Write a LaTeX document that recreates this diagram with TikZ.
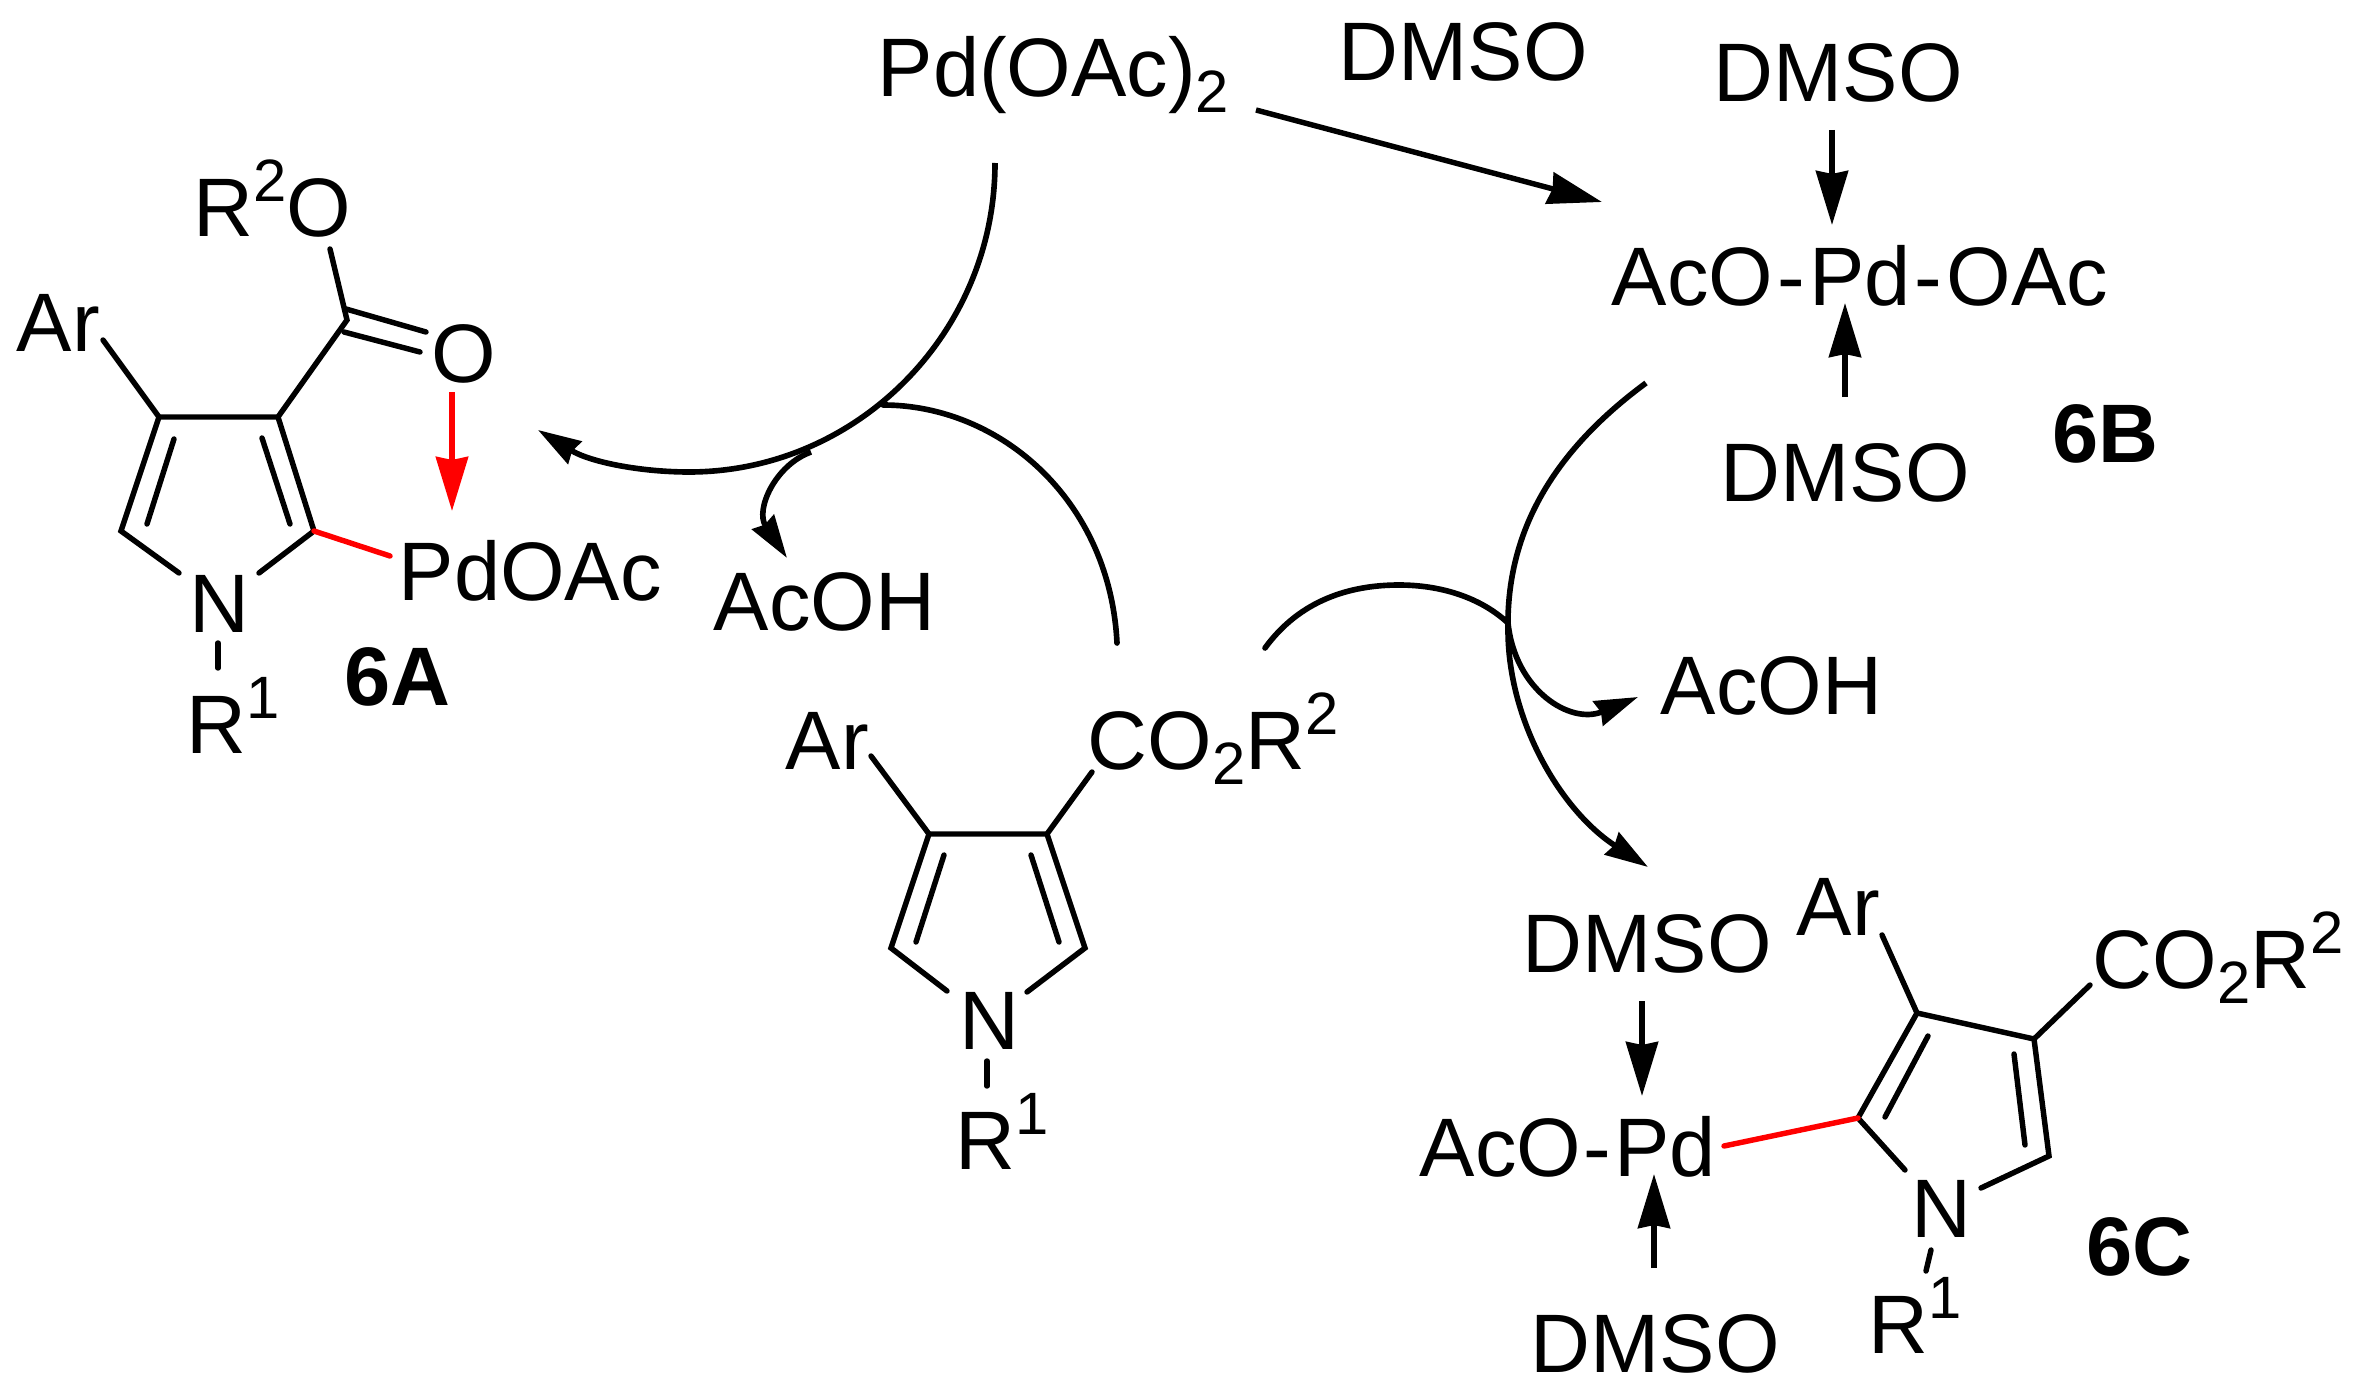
\documentclass[tikz,border=0pt]{standalone}
\usepackage{fontspec}
\setmainfont{Liberation Sans}
\usetikzlibrary{arrows.meta}
\newcommand{\supnum}[1]{\raisebox{.41em}{\fontsize{17}{17}\selectfont #1}}
\newcommand{\subnum}[1]{\raisebox{-.19em}{\fontsize{17}{17}\selectfont #1}}
\newcommand{\wbar}{\kern1.2pt-\kern1.2pt}
\tikzset{
	label/.style={anchor=base west, inner sep=0pt, font=\fontsize{23.6}{28}\selectfont},
	tag/.style={label, font=\fontsize{23.6}{28}\selectfont\bfseries},
	bond/.style={line width=1.55pt, line cap=round},
	redbond/.style={bond, red},
	curve/.style={line width=1.6pt, -{Stealth[length=4.3mm, width=2.6mm, inset=.3mm]}},
	plain/.style={line width=1.6pt, line cap=round},
	straight/.style={line width=1.55pt, -{Stealth[length=5.4mm, width=3.2mm, inset=.3mm]}},
}
\begin{document}
\begin{tikzpicture}[x=0.01cm, y=-0.01cm]
	\useasboundingbox (0,0) rectangle (2357,1397);

	\node[label] (pdoac) at (877,97) {Pd(OAc)\subnum{2}};
	\node[label] (dmsotop) at (1338,81) {DMSO};
	\node[label] (acoha) at (713,630) {AcOH};
	\node[label] (acohb) at (1660,714) {AcOH};

	\node[label] (bdmsoa) at (1713,102) {DMSO};
	\node[label] (bpd) at (1611,305) {AcO\wbar Pd\wbar OAc};
	\node[label] (bdmsob) at (1720,501) {DMSO};
	\node[tag] (btag) at (2052,462) {6B};

	\node[label] (aar) at (16,351) {Ar};
	\node[label] (aor) at (193,236) {R\supnum{2}O};
	\node[label] (ao) at (431,382) {O};
	\node[label] (apd) at (398,600) {PdOAc};
	\node[label] (an) at (189,632) {N};
	\node[label] (ar) at (186,753) {R\supnum{1}};
	\node[tag] (atag) at (344,705) {6A};

	\node[label] (mar) at (785,769) {Ar};
	\node[label] (mco) at (1087,769) {CO\subnum{2}R\supnum{2}};
	\node[label] (mn) at (959,1049) {N};
	\node[label] (mr) at (955,1169) {R\supnum{1}};

	\node[label] (cdmsoa) at (1522,972) {DMSO};
	\node[label] (cpd) at (1419,1176) {AcO\kern.8pt-\kern.8pt Pd};
	\node[label] (cdmsob) at (1530,1372) {DMSO};
	\node[label] (car) at (1796,935) {Ar};
	\node[label] (cco) at (2092,988) {CO\subnum{2}R\supnum{2}};
	\node[label] (cn) at (1911,1237) {N};
	\node[label] (cr) at (1868,1353) {R\supnum{1}};
	\node[tag] (ctag) at (2086,1275) {6C};

	\path (159,417) coordinate (aca) (278,417) coordinate (acb) (314,531) coordinate (acc) (121,531) coordinate (acd)
		(179,573) coordinate (anl) (259,573) coordinate (anr) (103,340) coordinate (aarb)
		(347,320) coordinate (ace) (330,249) coordinate (aorb) (390,556) coordinate (apdb)
		(218,643) coordinate (anb) (218,668) coordinate (arb)
		(452,392) coordinate (aos) (452,511) coordinate (apdt);
	\draw[bond] (aarb) -- (aca) -- (acb) -- (ace) -- (aorb);
	\draw[bond] (aca) -- (acd) -- (anl);
	\draw[bond] (acb) -- (acc) -- (anr);
	\draw[bond] (174,439) coordinate (ada) -- (147,524) coordinate (adb);
	\draw[bond] (262,438) coordinate (adc) -- (290,524) coordinate (add);
	\draw[bond] (346,309) coordinate (ade) -- (426,332) coordinate (adf);
	\draw[bond] (344,332) coordinate (adg) -- (420,352) coordinate (adh);
	\draw[bond] (anb) -- (arb);
	\draw[redbond] (acc) -- (apdb);
	\draw[straight, red] (aos) -- (apdt);

	\path (929,834) coordinate (mca) (1047,834) coordinate (mcb) (1085,948) coordinate (mcc) (891,948) coordinate (mcd)
		(947,991) coordinate (mnl) (1027,992) coordinate (mnr) (871,756) coordinate (marb) (1092,772) coordinate (mcob)
		(987,1061) coordinate (mnb) (987,1086) coordinate (mrb);
	\draw[bond] (marb) -- (mca) -- (mcb) -- (mcob);
	\draw[bond] (mca) -- (mcd) -- (mnl);
	\draw[bond] (mcb) -- (mcc) -- (mnr);
	\draw[bond] (944,855) coordinate (mda) -- (916,942) coordinate (mdb);
	\draw[bond] (1031,855) coordinate (mdc) -- (1059,942) coordinate (mdd);
	\draw[bond] (mnb) -- (mrb);

	\path (1917,1013) coordinate (cca) (2034,1039) coordinate (ccb) (2049,1156) coordinate (ccc) (1858,1118) coordinate (ccd)
		(1981,1188) coordinate (cnr) (1905,1170) coordinate (cnl) (1882,935) coordinate (carb) (2090,985) coordinate (ccob)
		(1931,1250) coordinate (cnb) (1926,1271) coordinate (crb) (1724,1146) coordinate (cpdb);
	\draw[bond] (carb) -- (cca) -- (ccb) -- (ccob);
	\draw[bond] (cca) -- (ccd) -- (cnl);
	\draw[bond] (ccb) -- (ccc) -- (cnr);
	\draw[bond] (1928,1036) coordinate (cda) -- (1885,1117) coordinate (cdb);
	\draw[bond] (2014,1054) coordinate (cdc) -- (2025,1145) coordinate (cdd);
	\draw[bond] (cnb) -- (crb);
	\draw[redbond] (cpdb) -- (ccd);

	\path (1256,110) coordinate (pds) (1602,202) coordinate (bt)
		(1832,130) coordinate (bas) (1832,225) coordinate (bat)
		(1845,397) coordinate (bbs) (1845,303) coordinate (bbt)
		(1642,1001) coordinate (cas) (1642,1096) coordinate (cat)
		(1654,1268) coordinate (cbs) (1654,1174) coordinate (cbt);
	\draw[straight] (pds) -- (bt);
	\draw[straight] (bas) -- (bat);
	\draw[straight] (bbs) -- (bbt);
	\draw[straight] (cas) -- (cat);
	\draw[straight] (cbs) -- (cbt);

	\path (995,163) coordinate (ps) (689,472) coordinate (pm) (538,430) coordinate (pt)
		(883,405) coordinate (pj) (811,452) coordinate (qs) (787,558) coordinate (qt) (1117,643) coordinate (ms)
		(1646,383) coordinate (rs) (1508,630) coordinate (rm) (1648,867) coordinate (rt)
		(1265,648) coordinate (ss) (1399,585) coordinate (sm) (1508,623) coordinate (sj) (1638,697) coordinate (st);
	\draw[curve] (ps) .. controls (995,333) and (857,472) .. (pm) .. controls (640,472) and (590,462) .. (pt);
	\draw[curve] (qs) .. controls (775,465) and (755,510) .. (qt);
	\draw[plain] (ms) .. controls (1110,500) and (1000,405) .. (pj);
	\draw[curve] (rs) .. controls (1555,450) and (1506,530) .. (rm) .. controls (1508,720) and (1560,810) .. (rt);
	\draw[plain] (ss) .. controls (1300,600) and (1350,585) .. (sm) .. controls (1440,585) and (1480,597) .. (sj);
	\draw[curve] (sj) .. controls (1515,690) and (1570,725) .. (st);
\end{tikzpicture}
\end{document}
